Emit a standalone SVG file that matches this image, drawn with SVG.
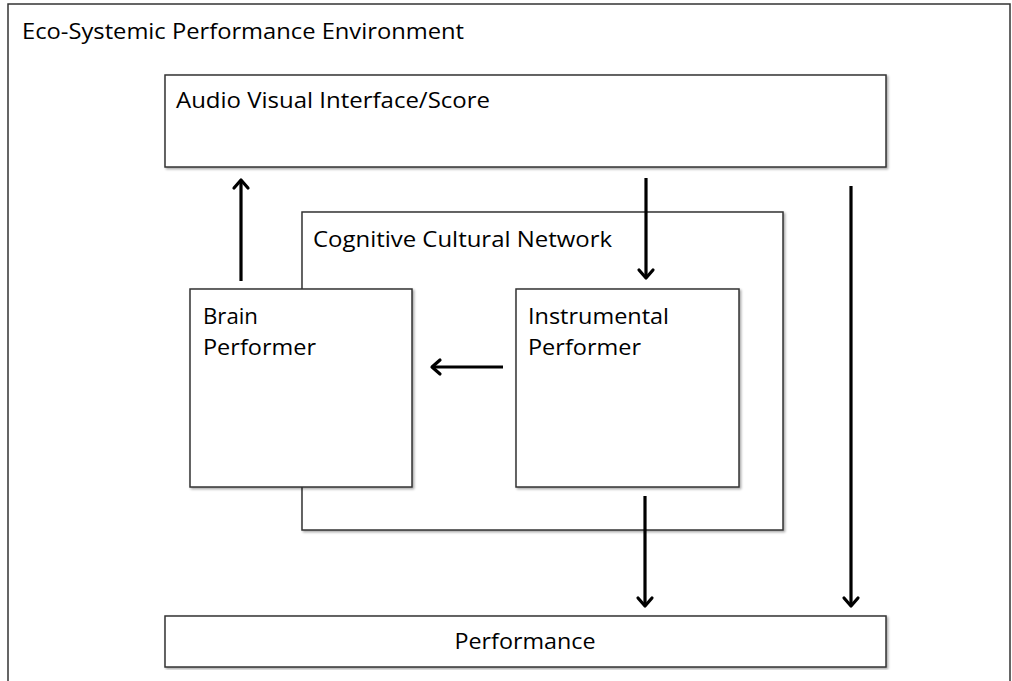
<svg xmlns="http://www.w3.org/2000/svg" width="1012" height="681" viewBox="0 0 1012 681">
<style>
.box{fill:#fff;stroke:#333;stroke-width:1.5;filter:url(#sh)}
.t{font-family:"Open Sans","DejaVu Sans",sans-serif;font-size:21.5px;fill:#000}
.c{stroke:#000;stroke-width:3.2;fill:none;marker-end:url(#ah)}
</style>
<defs>
<filter id="sh" x="-5%" y="-5%" width="110%" height="110%">
<feDropShadow dx="1.5" dy="1.5" stdDeviation="1" flood-color="#000" flood-opacity="0.35"/>
</filter>
<marker id="ah" markerUnits="userSpaceOnUse" markerWidth="16" markerHeight="20" refX="12" refY="8" orient="auto" viewBox="0 0 16 16">
<path d="M4,1 L12,8 L4,15" fill="none" stroke="#000" stroke-width="3.2" stroke-linecap="round" stroke-linejoin="round"/>
</marker>
</defs>
<rect width="1012" height="681" fill="#fff"/>
<g id="env">
<rect x="8" y="4" width="1002" height="690" fill="#fff" stroke="#333" stroke-width="1.5"/>
<text class="t" x="22" y="39" textLength="442" lengthAdjust="spacingAndGlyphs">Eco-Systemic Performance Environment</text>
</g>
<g id="avi">
<rect class="box" x="165" y="75" width="721" height="92"/>
<text class="t" x="176" y="108" textLength="314" lengthAdjust="spacingAndGlyphs">Audio Visual Interface/Score</text>
</g>
<g id="ccn">
<rect class="box" x="302" y="212" width="481" height="318"/>
<text class="t" x="313" y="247" textLength="299" lengthAdjust="spacingAndGlyphs">Cognitive Cultural Network</text>
</g>
<g id="brain">
<rect class="box" x="190" y="289" width="222" height="198"/>
<text class="t" x="203" y="324" textLength="55" lengthAdjust="spacingAndGlyphs">Brain</text>
<text class="t" x="203" y="355" textLength="113" lengthAdjust="spacingAndGlyphs">Performer</text>
</g>
<g id="instr">
<rect class="box" x="516" y="289" width="223" height="198"/>
<text class="t" x="528" y="324" textLength="141" lengthAdjust="spacingAndGlyphs">Instrumental</text>
<text class="t" x="528" y="355" textLength="113" lengthAdjust="spacingAndGlyphs">Performer</text>
</g>
<g id="perf">
<rect class="box" x="165" y="616" width="721" height="51"/>
<text class="t" x="525" y="649" text-anchor="middle" textLength="141" lengthAdjust="spacingAndGlyphs">Performance</text>
</g>
<g id="connectors">
<line class="c" x1="241" y1="281" x2="241" y2="180"/>
<line class="c" x1="646" y1="178" x2="646" y2="278"/>
<line class="c" x1="503" y1="367" x2="432" y2="367"/>
<line class="c" x1="645" y1="496" x2="645" y2="606"/>
<line class="c" x1="851" y1="186" x2="851" y2="606"/>
</g>
</svg>
